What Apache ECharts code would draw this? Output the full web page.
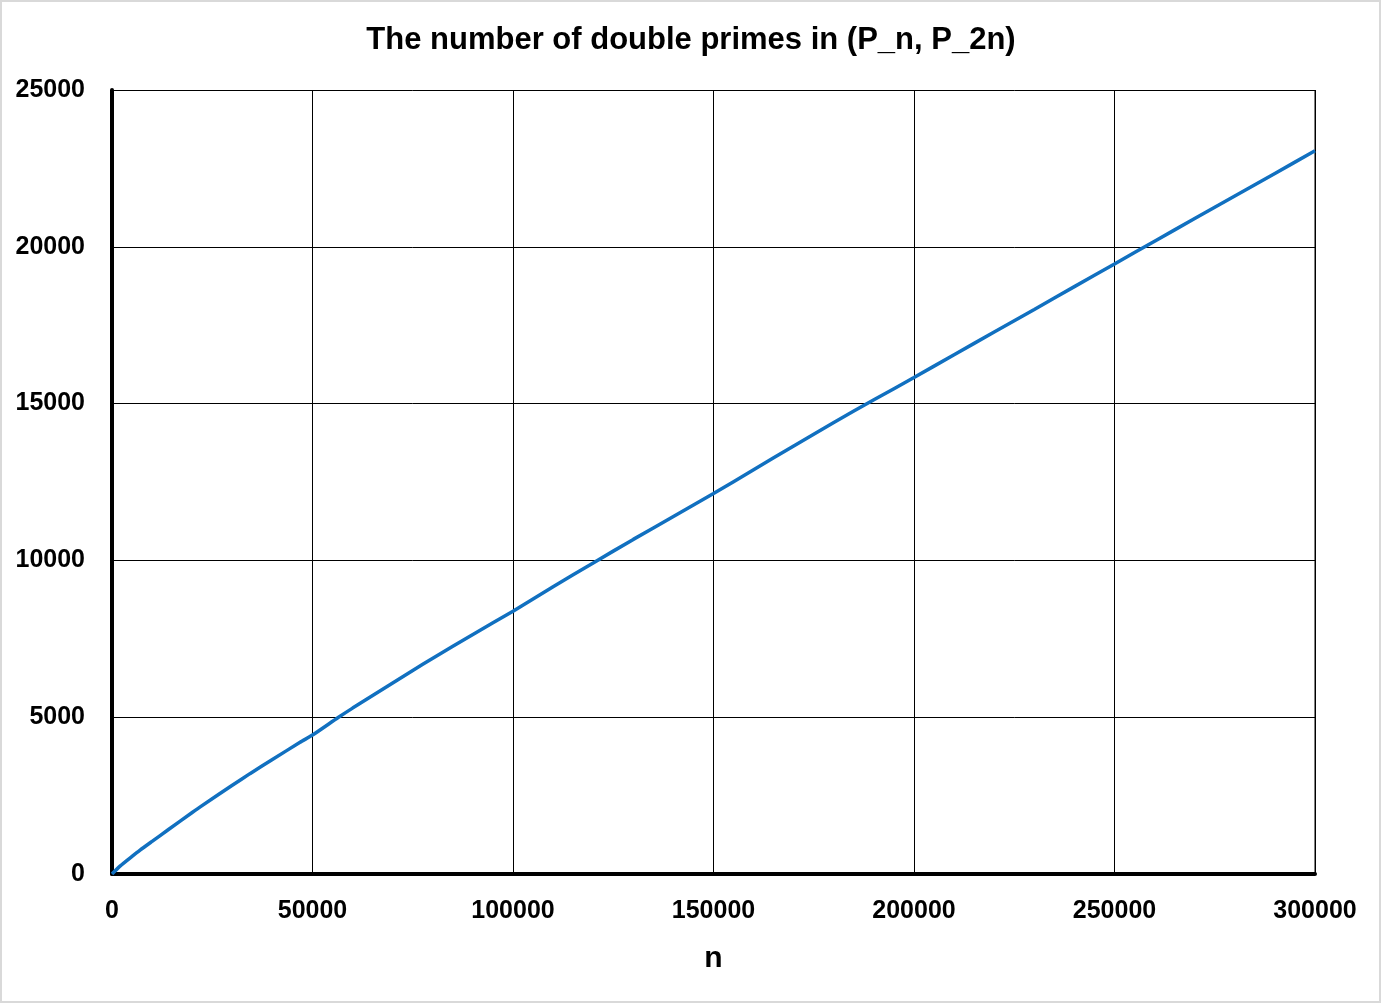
<!DOCTYPE html>
<html>
<head>
<meta charset="utf-8">
<script src="https://cdn.jsdelivr.net/npm/echarts@6/dist/echarts.min.js"></script>
<style>
html,body{margin:0;padding:0;background:#fff;}
#chart{width:1382px;height:1004px;}
</style>
</head>
<body>
<div id="chart"></div>
<script>
const titleText = "The number of double primes in (P_n, P_2n)";
const xName = "n";
const nValues = [0, 2000, 5000, 7000, 10000, 14000, 20000, 22000, 30000, 34400, 40000, 46900, 50000, 56400, 60000, 70000, 75000, 80000, 90000, 100000, 110000, 120000, 130000, 140000, 150000, 160000, 170000, 180000, 190000, 200000, 210000, 220000, 230000, 240000, 250000, 260000, 270000, 280000, 290000, 300000];
const counts = [0, 250, 560, 760, 1040, 1410, 1960, 2140, 2830, 3200, 3650, 4200, 4430, 4990, 5290, 6090, 6490, 6880, 7640, 8380, 9160, 9920, 10670, 11400, 12130, 12890, 13650, 14400, 15120, 15830, 16560, 17280, 18000, 18730, 19450, 20180, 20900, 21620, 22340, 23060];

const seriesData = nValues.map((n, i) => [n, counts[i]]);
const chart = echarts.init(document.getElementById('chart'), null, {renderer: 'canvas'});
const font = 'Liberation Sans, Arial, sans-serif';
chart.setOption({
  backgroundColor: '#fff',
  animation: false,
  title: {
    text: titleText,
    left: 'center',
    top: 20,
    textStyle: {fontFamily: font, fontWeight: 'bold', fontSize: 31, color: '#000'}
  },
  graphic: [{
    type: 'rect',
    shape: {x: 1, y: 1, width: 1379, height: 1001},
    style: {fill: 'none', stroke: '#d9d9d9', lineWidth: 2},
    silent: true
  }],
  grid: {left: 112, right: 67, top: 90, bottom: 130, containLabel: false, show: false},
  xAxis: {
    type: 'value', min: 0, max: 300000, interval: 50000,
    name: xName, nameLocation: 'middle', nameGap: 70,
    nameTextStyle: {fontFamily: font, fontWeight: 'bold', fontSize: 30, color: '#000'},
    axisLine: {show: true, onZero: false, lineStyle: {color: '#000', width: 4}},
    axisTick: {show: false},
    axisLabel: {fontFamily: font, fontWeight: 'bold', fontSize: 25, color: '#000', margin: 25,
                formatter: v => String(v)},
    splitLine: {show: true, lineStyle: {color: '#000', width: 1}}
  },
  yAxis: {
    type: 'value', min: 0, max: 25000, interval: 5000,
    axisLine: {show: true, lineStyle: {color: '#000', width: 4}},
    axisTick: {show: false},
    axisLabel: {fontFamily: font, fontWeight: 'bold', fontSize: 25, color: '#000', margin: 27,
                formatter: v => String(v)},
    splitLine: {show: true, lineStyle: {color: '#000', width: 1}}
  },
  series: [{
    type: 'line',
    data: seriesData,
    showSymbol: false,
    smooth: 0.2,
    lineStyle: {color: '#1170c0', width: 3.5},
    z: 3
  }, {
    type: 'line',
    data: [[300000, 0], [300000, 25000]],
    showSymbol: false, silent: true,
    lineStyle: {color: '#000', width: 1},
    z: 1
  }]
});
</script>
</body>
</html>
